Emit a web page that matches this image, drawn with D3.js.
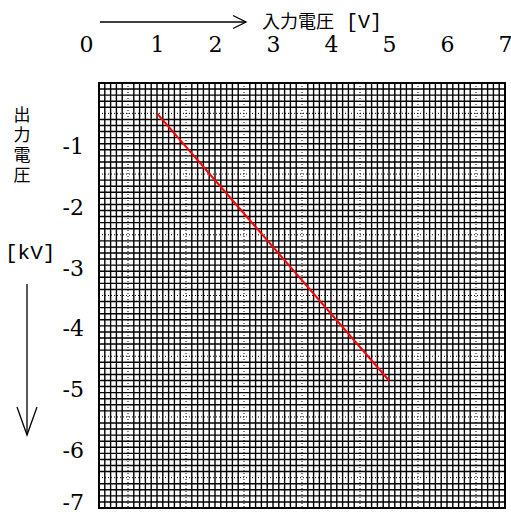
<!DOCTYPE html>
<html>
<head>
<meta charset="utf-8">
<script src="https://cdn.jsdelivr.net/npm/d3@7"></script>
<style>
  body { margin: 0; background: #fff; }
</style>
</head>
<body>
<script>
const w = 511
const h = 514
const marginLeft = 99
const marginTop = 83
const plotW = 406
const plotH = 425
const numFont = '"DejaVu Serif", "Liberation Serif", serif'
const jpFont = '"Noto Sans CJK JP", sans-serif'
const monoFont = '"Liberation Mono", "DejaVu Sans Mono", monospace'

// data
const inputVoltage = [1, 5]
const outputVoltage = [-0.5, -4.9]
const xTicks = [0, 1, 2, 3, 4, 5, 6, 7]
const yTicks = [-1, -2, -3, -4, -5, -6, -7]
const xTitle = ['入力電圧', ' [V]']
const yTitle = '出力電圧'
const yUnit = '[kV]'

const svg = d3.select('body').append('svg')
    .attr('width', w)
    .attr('height', h)

const xScale = d3.scaleLinear().domain([0, 7]).range([marginLeft, marginLeft + plotW])
const yScale = d3.scaleLinear().domain([0, -7]).range([marginTop, marginTop + plotH])

// graph paper grid, 0.1 steps, dotted on the half units
const steps = d3.range(1, 70)
const grid = svg.append('g')

grid.selectAll('line.vx')
    .data(steps)
    .enter()
    .append('line')
    .attr('x1', d => xScale(d / 10))
    .attr('x2', d => xScale(d / 10))
    .attr('y1', marginTop)
    .attr('y2', marginTop + plotH)
    .attr('stroke', '#000')
    .attr('stroke-width', d => d % 10 === 5 ? 1 : 1.4)
    .attr('stroke-dasharray', d => d % 10 === 5 ? '1,2' : null)

grid.selectAll('line.hy')
    .data(steps)
    .enter()
    .append('line')
    .attr('y1', d => yScale(-d / 10))
    .attr('y2', d => yScale(-d / 10))
    .attr('x1', marginLeft)
    .attr('x2', marginLeft + plotW)
    .attr('stroke', '#000')
    .attr('stroke-width', d => d % 10 === 5 ? 1 : 1.4)
    .attr('stroke-dasharray', d => d % 10 === 5 ? '1,2' : null)

svg.append('rect')
    .attr('x', marginLeft)
    .attr('y', marginTop)
    .attr('width', plotW)
    .attr('height', plotH)
    .attr('fill', 'none')
    .attr('stroke', '#000')
    .attr('stroke-width', 2)

// axes, only the labels are shown
const xAxis = svg.append('g')
    .attr('transform', `translate(0,${marginTop - 44})`)
    .call(d3.axisTop(xScale).tickValues(xTicks).tickSize(0).tickFormat(d3.format('d')))
xAxis.select('.domain').remove()
xAxis.selectAll('text')
    .style('font-family', numFont)
    .style('font-size', '22px')
    .attr('fill', '#000')
    .attr('dy', '0.71em')
    .attr('x', d => d === 0 ? -13 : 0)

const yAxis = svg.append('g')
    .attr('transform', `translate(${marginLeft - 12},0)`)
    .call(d3.axisLeft(yScale).tickValues(yTicks).tickSize(0).tickFormat(d => '-' + Math.abs(d)))
yAxis.select('.domain').remove()
yAxis.selectAll('text')
    .style('font-family', numFont)
    .style('font-size', '22px')
    .attr('fill', '#000')
    .attr('dy', d => d === -7 ? '0.05em' : '0.45em')

// data line
const lineFun = d3.line()
    .x(d => xScale(d[0]))
    .y(d => yScale(d[1]))

svg.append('path')
    .attr('d', lineFun(d3.zip(inputVoltage, outputVoltage)))
    .attr('stroke', '#ff0000')
    .attr('stroke-width', 2)
    .attr('fill', 'none')

// titles and arrows
svg.append('line')
    .attr('x1', 100).attr('x2', 246)
    .attr('y1', 22).attr('y2', 22)
    .attr('stroke', '#000').attr('stroke-width', 1.3)
svg.append('path')
    .attr('d', 'M233,15.5 L246,22 L233,28.5')
    .attr('stroke', '#000').attr('stroke-width', 1.3).attr('fill', 'none')

const xt = svg.append('text')
    .attr('x', 262)
    .attr('y', 28)
xt.append('tspan')
    .style('font-family', jpFont)
    .style('font-size', '18px')
    .text(xTitle[0])
xt.append('tspan')
    .style('font-family', monoFont)
    .style('font-size', '20px')
    .style('white-space', 'pre')
    .text(xTitle[1])

svg.append('text')
    .attr('x', 22)
    .attr('y', 106)
    .style('writing-mode', 'vertical-rl')
    .style('font-family', jpFont)
    .style('font-size', '17px')
    .style('letter-spacing', '3px')
    .text(yTitle)

svg.append('text')
    .attr('x', 5)
    .attr('y', 259)
    .style('font-family', monoFont)
    .style('font-size', '21px')
    .text(yUnit)

svg.append('line')
    .attr('x1', 27).attr('x2', 27)
    .attr('y1', 284).attr('y2', 435)
    .attr('stroke', '#000').attr('stroke-width', 1.3)
svg.append('path')
    .attr('d', 'M17,407 L27,435 L37,407')
    .attr('stroke', '#000').attr('stroke-width', 1.3).attr('fill', 'none')
</script>
</body>
</html>
